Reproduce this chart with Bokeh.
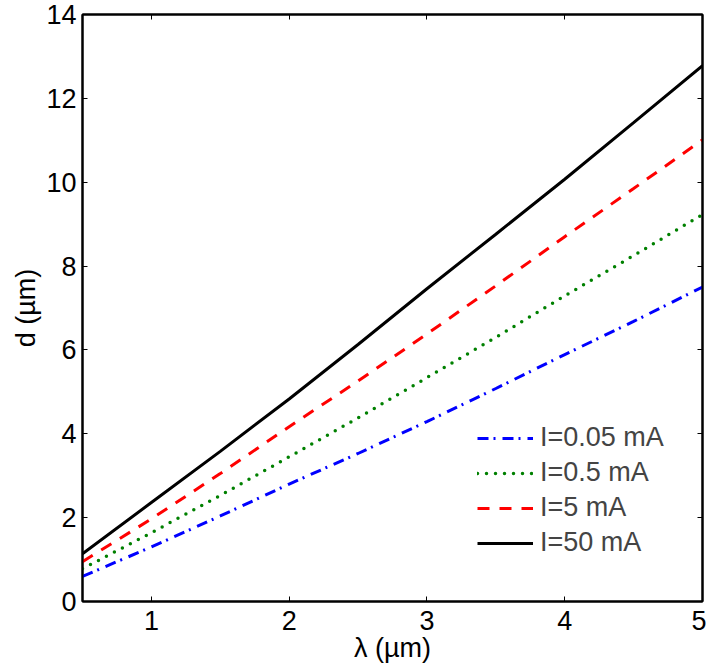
from bokeh.plotting import figure
from bokeh.models import Range1d, LinearAxis, Legend, LegendItem, FixedTicker
from bokeh.embed import file_html
from bokeh.resources import INLINE

# wavelength (µm)
lam = [0.5, 1.0, 1.5, 2.0, 2.5, 3.0, 3.5, 4.0, 4.5, 5.0]
# d (µm) for each current
d_005 = [0.60, 1.30, 2.04, 2.80, 3.53, 4.29, 5.08, 5.89, 6.68, 7.50]
d_05 = [0.78, 1.64, 2.53, 3.45, 4.38, 5.34, 6.30, 7.29, 8.25, 9.23]
d_5 = [0.95, 1.97, 3.05, 4.17, 5.26, 6.38, 7.53, 8.70, 9.85, 11.01]
d_50 = [1.14, 2.36, 3.58, 4.83, 6.13, 7.46, 8.76, 10.07, 11.42, 12.78]
labels = ["I=0.05 mA", "I=0.5 mA", "I=5 mA", "I=50 mA"]
x_ticks = [1, 2, 3, 4, 5]
y_ticks = [0, 2, 4, 6, 8, 10, 12, 14]
x_title = "λ (µm)"
y_title = "d (µm)"

FONT = "Liberation Sans"
FS = "27px"

p = figure(width=706, height=668, output_backend="svg", toolbar_location=None,
           x_range=Range1d(0.5, 5), y_range=Range1d(0, 14),
           min_border_left=82, min_border_right=4, min_border_top=14, min_border_bottom=67,
           x_axis_location=None, y_axis_location=None)
p.xgrid.visible = False
p.ygrid.visible = False
p.outline_line_color = "black"
p.outline_line_width = 2
p.background_fill_color = "white"
p.border_fill_color = "white"

def style_axis(ax, ticks, show_labels, standoff):
    ax.ticker = FixedTicker(ticks=ticks)
    ax.major_tick_in = 5
    ax.major_tick_out = 0
    ax.minor_tick_in = 0
    ax.minor_tick_out = 0
    ax.axis_line_width = 2
    ax.major_tick_line_width = 1
    ax.major_label_text_font = FONT
    ax.major_label_standoff = standoff
    ax.axis_label_text_font = FONT
    ax.axis_label_text_font_size = FS
    ax.axis_label_text_font_style = "normal"
    ax.axis_label_text_color = "black"
    if show_labels:
        ax.major_label_text_font_size = FS
        ax.major_label_text_color = "black"
    else:
        ax.major_label_text_font_size = "0px"
        ax.major_label_text_alpha = 0

p.add_layout(LinearAxis(axis_label=x_title, axis_label_standoff=0), "below")
p.add_layout(LinearAxis(axis_label=y_title, axis_label_standoff=2), "left")
p.add_layout(LinearAxis(), "above")
p.add_layout(LinearAxis(), "right")
style_axis(p.below[0], x_ticks, True, 9)
style_axis(p.left[0], y_ticks, True, 6)
style_axis(p.above[0], x_ticks, False, 0)
style_axis(p.right[0], y_ticks, False, 0)

r1 = p.line(lam, d_005, line_color="#0000ff", line_width=3, line_dash="11 5 2 7")
r2 = p.line(lam, d_05, line_color="#008000", line_width=3.5, line_dash="0 9", line_cap="round")
r3 = p.line(lam, d_5, line_color="#ff0000", line_width=3, line_dash="12 10")
r4 = p.line(lam, d_50, line_color="black", line_width=3)

legend = Legend(items=[LegendItem(label=labels[0], renderers=[r1]),
                       LegendItem(label=labels[1], renderers=[r2]),
                       LegendItem(label=labels[2], renderers=[r3]),
                       LegendItem(label=labels[3], renderers=[r4])],
                location=(395, 43), padding=0, margin=0, spacing=4,
                glyph_width=56, glyph_height=30, label_height=30, label_standoff=7,
                label_text_font=FONT, label_text_font_size=FS,
                border_line_alpha=0, background_fill_alpha=0)
p.add_layout(legend, "center")

open("out.html", "w").write(file_html(p, INLINE))
